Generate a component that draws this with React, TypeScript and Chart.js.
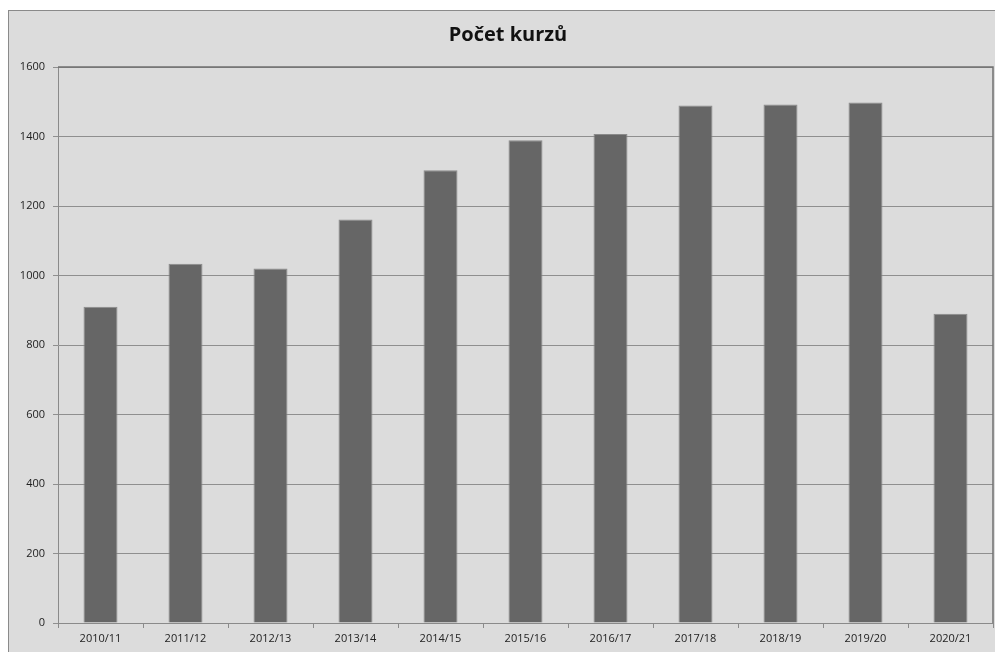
import React, { useEffect, useRef } from "react";
import { Chart, registerables } from "chart.js";

Chart.register(...registerables);

const categories = ["2010/11", "2011/12", "2012/13", "2013/14", "2014/15", "2015/16", "2016/17", "2017/18", "2018/19", "2019/20", "2020/21"];
const values = [910, 1034, 1020, 1161, 1303, 1389, 1407, 1489, 1492, 1498, 890];
const titleText = "Počet kurzů";

const frame = {
  id: "frame",
  afterDatasetsDraw(chart: any) {
    const { ctx, chartArea } = chart;
    ctx.save();
    ctx.strokeStyle = "#707070";
    ctx.lineWidth = 1.5;
    ctx.beginPath();
    ctx.moveTo(chartArea.left, chartArea.top);
    ctx.lineTo(chartArea.right, chartArea.top);
    ctx.lineTo(chartArea.right, chartArea.bottom);
    ctx.stroke();
    ctx.restore();
  },
};

const titlePlugin = {
  id: "customTitle",
  afterDraw(chart: any) {
    const { ctx } = chart;
    ctx.save();
    ctx.font = "bold 20px 'Open Sans'";
    ctx.fillStyle = "#111";
    ctx.textAlign = "center";
    ctx.textBaseline = "middle";
    ctx.fillText(titleText, 499, 24);
    ctx.restore();
  },
};

export default function App() {
  const ref = useRef<HTMLCanvasElement>(null);
  useEffect(() => {
    const chart = new Chart(ref.current!, {
      type: "bar",
      data: {
        labels: categories,
        datasets: [
          {
            data: values,
            backgroundColor: "#666666",
            borderColor: "#8a8a8a",
            borderWidth: 1,
            categoryPercentage: 1,
            barPercentage: 0.4,
          },
        ],
      },
      options: {
        animation: false,
        responsive: false,
        layout: { padding: { top: 56, left: 0, right: 16, bottom: 0 } },
        plugins: {
          legend: { display: false },
          tooltip: { enabled: false },
          title: { display: false },
        },
        scales: {
          x: {
            grid: { offset: true, drawOnChartArea: false, drawTicks: true, tickLength: 5, color: "#8a8a8a" },
            border: { display: true, color: "#8a8a8a" },
            ticks: { color: "#222", font: { family: "'Open Sans'", size: 11 }, padding: 4, maxRotation: 0 },
            afterFit: (s: any) => { s.height = 30; },
          },
          y: {
            min: 0,
            max: 1600,
            grid: { color: "#8f8f8f", tickLength: 5, drawTicks: true },
            border: { display: true, color: "#8a8a8a" },
            ticks: {
              stepSize: 200,
              color: "#222",
              font: { family: "'Open Sans'", size: 11 },
              padding: 8,
              callback: (v: any) => String(v),
            },
            afterFit: (s: any) => { s.width = 49; },
          },
        },
      },
      plugins: [frame, titlePlugin],
    });
    return () => chart.destroy();
  }, []);
  return (
    <div
      style={{
        position: "fixed",
        left: 8,
        top: 10,
        width: 1000,
        height: 660,
        border: "1px solid #8a8a8a",
        background: "#dcdcdc",
      }}
    >
      <canvas ref={ref} width={1000} height={642} style={{ display: "block" }} />
    </div>
  );
}
